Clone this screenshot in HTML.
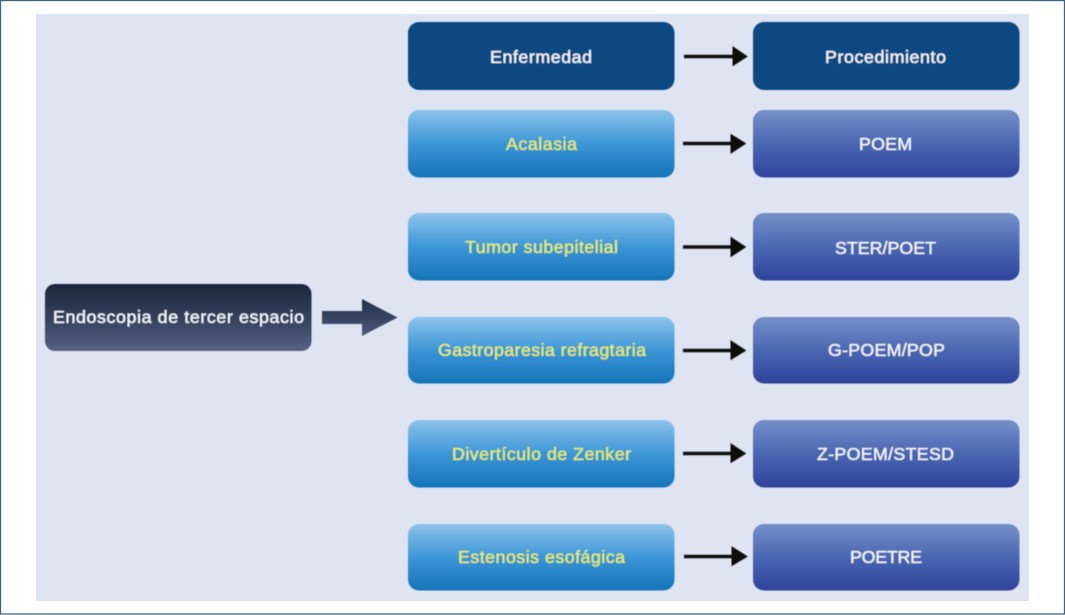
<!DOCTYPE html>
<html lang="es">
<head>
<meta charset="utf-8">
<title>Endoscopia de tercer espacio</title>
<style>
html,body{margin:0;padding:0;background:#fff;width:1065px;height:615px;overflow:hidden}
svg{display:block}
text{font-family:"Liberation Sans",sans-serif;font-size:17.800px;text-anchor:start;stroke-width:.35px}
.w{fill:#f1f4fa;stroke:#f1f4fa}
.y{fill:#e3ec64;stroke:#e3ec64}
</style>
</head>
<body>
<svg width="1065" height="615" viewBox="0 0 1065 615" xmlns="http://www.w3.org/2000/svg">
<defs>
<linearGradient id="c" x1="0" y1="0" x2="0" y2="1"><stop offset="0" stop-color="#8fc3ea"/><stop offset=".5" stop-color="#3c96d6"/><stop offset="1" stop-color="#1474b8"/></linearGradient>
<linearGradient id="p" x1="0" y1="0" x2="0" y2="1"><stop offset="0" stop-color="#7690c9"/><stop offset=".5" stop-color="#4a67b1"/><stop offset="1" stop-color="#2f429c"/></linearGradient>
<linearGradient id="d" x1="0" y1="0" x2="0" y2="1"><stop offset="0" stop-color="#1d263d"/><stop offset=".55" stop-color="#384360"/><stop offset="1" stop-color="#566283"/></linearGradient>
<linearGradient id="a" x1="0" y1="0" x2="0" y2="1"><stop offset="0" stop-color="#232c46"/><stop offset="1" stop-color="#4d5a7b"/></linearGradient>
<filter id="s" x="-5%" y="-5%" width="110%" height="110%"><feGaussianBlur stdDeviation=".4"/></filter>
</defs>
<rect x=".5" y=".5" width="1064" height="613.5" fill="#fff" stroke="#3b6484" stroke-width="1.3"/>
<rect x="36" y="14" width="993" height="587" fill="#dfe4f3"/>
<g filter="url(#s)">
<rect x="45" y="284" width="266.500" height="67" rx="10" fill="url(#d)"/>
<path d="M322 311H362V299L397.500 317.500L362 336V324H322Z" fill="url(#a)"/>

<rect x="408" y="22" width="266.500" height="68" rx="11" fill="#0e4880"/>
<rect x="753" y="22" width="266.500" height="68" rx="11" fill="#0e4880"/>

<rect x="408" y="110" width="266.500" height="67.500" rx="11" fill="url(#c)"/>
<rect x="753" y="110" width="266.500" height="67.500" rx="11" fill="url(#p)"/>
<rect x="408" y="213" width="266.500" height="67.500" rx="11" fill="url(#c)"/>
<rect x="753" y="213" width="266.500" height="67.500" rx="11" fill="url(#p)"/>
<rect x="408" y="317" width="266.500" height="66.500" rx="11" fill="url(#c)"/>
<rect x="753" y="317" width="266.500" height="66.500" rx="11" fill="url(#p)"/>
<rect x="408" y="420" width="266.500" height="67.500" rx="11" fill="url(#c)"/>
<rect x="753" y="420" width="266.500" height="67.500" rx="11" fill="url(#p)"/>
<rect x="408" y="524" width="266.500" height="66.500" rx="11" fill="url(#c)"/>
<rect x="753" y="524" width="266.500" height="66.500" rx="11" fill="url(#p)"/>

<g fill="#111" stroke="#111" stroke-width="3.600">
<path d="M684 56.500H735" fill="none"/><path d="M733.500 48L746 56.500L733.500 64.500Z" stroke-width="2"/>
<path d="M683 143.500H734" fill="none"/><path d="M731.500 135.500L744.500 143.500L731.500 152Z" stroke-width="2"/>
<path d="M683 247H734" fill="none"/><path d="M731.500 238.500L744.500 247L731.500 255.500Z" stroke-width="2"/>
<path d="M683 350.500H734" fill="none"/><path d="M731.500 342L744.500 350.500L731.500 358.500Z" stroke-width="2"/>
<path d="M683 453.500H734" fill="none"/><path d="M731.500 445L744.500 453.500L731.500 461.500Z" stroke-width="2"/>
<path d="M684 556.500H735" fill="none"/><path d="M732.500 548L746 556.500L732.500 564.500Z" stroke-width="2"/>
</g>

<text class="w" x="53" y="323" textLength="251" lengthAdjust="spacing">Endoscopia de tercer espacio</text>
<text class="w" x="490" y="63" textLength="102" lengthAdjust="spacing">Enfermedad</text>
<text class="w" x="825" y="63" textLength="121" lengthAdjust="spacing">Procedimiento</text>
<text class="y" x="506" y="150" textLength="71" lengthAdjust="spacing">Acalasia</text>
<text class="w" x="859" y="150" textLength="53" lengthAdjust="spacing">POEM</text>
<text class="y" x="465" y="253" textLength="153" lengthAdjust="spacing">Tumor subepitelial</text>
<text class="w" x="835" y="254" textLength="101" lengthAdjust="spacing">STER/POET</text>
<text class="y" x="438" y="356" textLength="208" lengthAdjust="spacing">Gastroparesia refragtaria</text>
<text class="w" x="828" y="356" textLength="117" lengthAdjust="spacing">G-POEM/POP</text>
<text class="y" x="452" y="460" textLength="179" lengthAdjust="spacing">Divertículo de Zenker</text>
<text class="w" x="817" y="460" textLength="137" lengthAdjust="spacing">Z-POEM/STESD</text>
<text class="y" x="458" y="563" textLength="167" lengthAdjust="spacing">Estenosis esofágica</text>
<text class="w" x="850" y="563" textLength="72" lengthAdjust="spacing">POETRE</text>
</g>
</svg>
</body>
</html>
